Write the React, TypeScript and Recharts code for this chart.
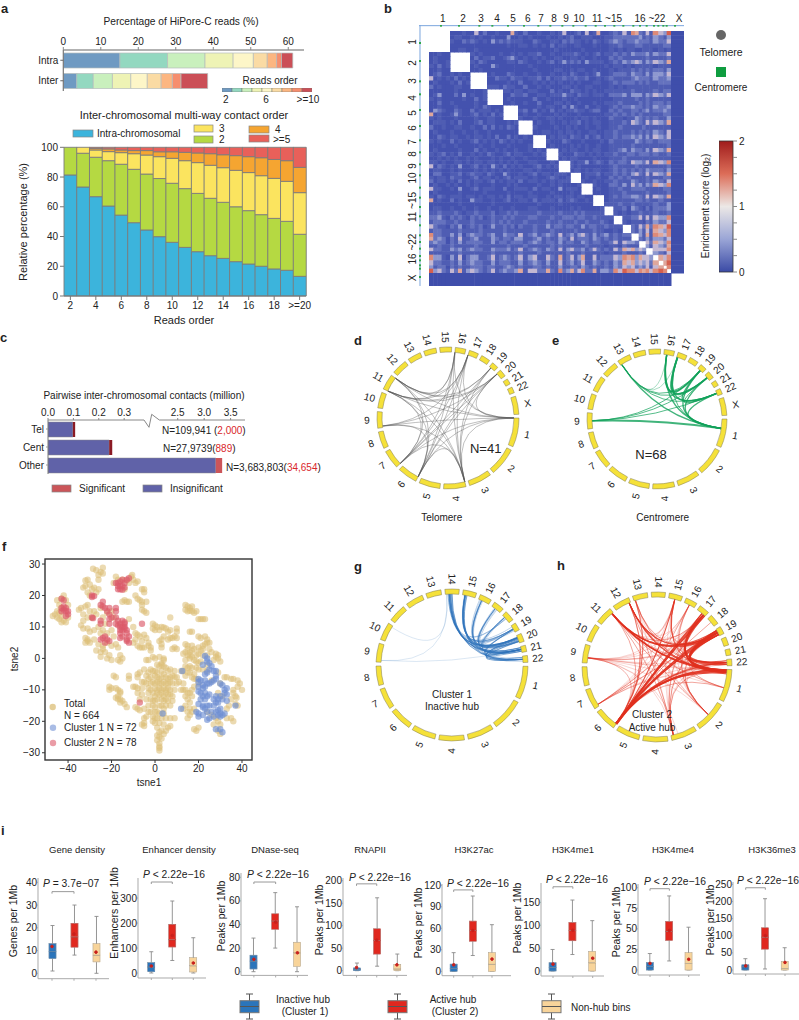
import {
  Bar, BarChart, Cell, ComposedChart, Customized, Line, Pie, PieChart, ReferenceLine,
  Scatter, ScatterChart, XAxis, YAxis,
} from "recharts";

// panel a, top
const readOrderColors = ["#6f9ac2", "#93d8c0", "#c9f0bd", "#eef3b5", "#fdf6c8", "#fadba4", "#fcb681", "#f68e6e", "#cb4f57"];
const intraShares = [15.1, 12.7, 10, 7.5, 5.4, 3.7, 2.5, 1.3, 3.0];
const interShares = [3.6, 4.4, 5.1, 4.9, 4.4, 3.7, 3, 2.3, 7.1];

// panel a, bottom
const orderCats = ["2", "3", "4", "5", "6", "7", "8", "9", "10", "11", "12", "13", "14", "15", "16", "17", "18", "19", ">=20"];
const intraPct = [81.4, 73.3, 66.8, 60.5, 54.4, 49.3, 44.4, 39.9, 36.1, 32.7, 29.8, 27.1, 25.3, 23.1, 21.5, 20, 18.2, 17.3, 13.2];
const twoPct = [18.6, 22.7, 26.5, 30.5, 34.2, 35.9, 37.6, 39.1, 39.7, 39.5, 39.2, 38.6, 37.7, 36.9, 35.9, 34.7, 34, 32.9, 28.3];
const threePct = [0, 4, 4.9, 6.1, 7.8, 10.5, 12.8, 14.7, 16.8, 18.8, 20.7, 22.2, 23.3, 24.5, 25.6, 26.2, 26.9, 26.9, 28];
const fourPct = [0, 0, 1.1, 1.8, 1.8, 2.1, 3, 3.3, 4.4, 5.6, 6.5, 7.8, 8.7, 9.9, 10.7, 12.1, 12.7, 13.9, 17];
const fivePct = [0, 0, 0.7, 1.1, 1.8, 2.2, 2.2, 3, 3, 3.4, 3.8, 4.3, 5, 5.6, 6.3, 7, 8.2, 9, 13.5];

// panel b: widths of chromosomes in the matrix, how many bins each one has, and the lower triangle of the matrix
const matrixSizes = [63, 60, 51, 48, 45, 44, 40, 37, 36, 32, 35, 34, 28, 27, 26, 23, 21, 21, 17, 15, 10, 13, 40];
const matrixBins = [5, 5, 4, 4, 4, 3, 3, 3, 3, 3, 3, 3, 2, 2, 2, 2, 2, 2, 1, 1, 1, 1, 1];
const heatColors = ["#3f4eab", "#4452ae", "#4f5db3", "#6572be", "#8e98cf", "#c3b7d2", "#dfa79c", "#dd8a78", "#d5604f", "#c33a33"];
const centromeres = [36, 90, 151, 190, 237, 285, 328, 364, 400, 433, 470, 500, 528, 556, 583, 613, 633, 653, 675, 688, 703, 713, 738];
const matrixRows = [
  "", "0", "00", "000", "0000",
  "11211", "12111 0", "12112 00", "21312 000", "11211 0000",
  "12311 21211", "51212 13121 0", "12111 21312 00", "31211 12211 000",
  "11111 12111 1112", "12411 13141 2112 0", "21211 11121 1312 00", "11311 21111 1211 000",
  "11211 12111 1213 2111", "14321 13211 3122 2121 0", "61211 24211 2312 1312 00", "21211 12111 1211 2211 000",
  "12221 21311 1231 2211 1212", "31121 12211 2113 1312 1321 0", "12111 21121 1211 2111 1111 00",
  "11321 22112 1221 2131 1312 121", "21211 31211 2312 1213 2121 211 0", "11121 12111 1121 1211 1211 112 00",
  "12111 11211 1312 1121 2112 112 121", "21231 21311 2121 3211 2312 211 212 0", "11212 12112 1211 1212 1121 121 111 00",
  "22121 12212 1221 2212 1212 112 211 121", "51321 21411 2312 1421 3121 211 231 212 0", "12211 21211 1212 1212 1211 122 121 111 00",
  "13311 22312 3221 3211 4211 212 312 212 221", "21221 32211 2312 2121 2312 221 211 232 112 0", "31221 21312 1221 2312 1221 312 212 121 222 00",
  "12112 12112 1211 1211 1212 111 121 121 211 112", "52211 21411 2312 2211 3112 221 312 211 412 221 0", "12111 11211 1112 1111 1211 112 111 121 111 211 00",
  "21321 22212 2121 2212 1312 212 211 212 212 212 211", "61211 31211 4221 1211 2311 221 312 221 312 321 121 0", "11111 11211 1111 1211 1111 111 121 111 211 111 111 00",
  "12211 21121 1211 2112 1121 112 211 121 111 212 111 112", "22322 23212 2322 2312 2323 222 232 222 322 232 322 222 0",
  "33421 32321 3231 2322 3232 223 322 232 233 323 322 322 22", "23332 23222 3222 2323 2322 232 222 322 322 232 232 223 21 0",
  "53221 32412 3231 2422 3231 322 322 423 323 322 423 322 32 22", "23322 22322 2232 2222 3222 222 322 232 222 232 222 322 11 21 0",
  "73322 42413 4332 3422 4332 523 423 432 523 424 532 423 42 32 33", "63431 32522 3422 2432 3324 422 342 322 432 523 332 432 32 32 22 0",
  "34331 32423 3332 2423 3233 323 432 332 423 322 432 332 23 52 54 43", "22322 32222 2322 2222 2322 232 222 232 322 222 232 222 12 21 32 22 0",
  "53322 43423 4332 2433 3423 523 432 432 524 533 423 532 32 53 65 64 54", "22222 22322 2222 2322 2222 322 232 222 223 222 322 222 12 22 32 22 32 0",
  "74421 42513 4422 3523 4323 524 522 532 623 524 622 523 33 54 76 74 65 54",
  "53322 32423 4332 2423 3322 423 432 422 523 423 522 432 32 43 65 64 54 53 6",
  "42331 32322 3332 3322 3432 322 332 322 422 332 432 322 32 43 54 53 43 52 5 6",
  "84532 53624 5432 3523 4334 625 533 632 734 635 733 624 43 75 87 75 76 75 7 8 7",
  "00000 00000 0000 0000 0000 000 000 000 000 000 000 000 00 00 00 00 00 00 0 0 0 0",
];

// panel c
const contactCats = ["Tel", "Cent", "Other"];
const contactTotals = [0.107, 0.253, 3.34];
const contactSignificant = [0.009, 0.012, 0.12];
const contactTicks = [0, 0.1, 0.2, 0.3, 2.5, 3, 3.5];

// panels d, e, g, h: [chrom, position on chrom, chrom, position on chrom, weight]
const chromNames = ["1", "2", "3", "4", "5", "6", "7", "8", "9", "10", "11", "12", "13", "14", "15", "16", "17", "18", "19", "20", "21", "22", "X"];
const chromSizes = [249, 243, 198, 191, 181, 171, 159, 146, 141, 135, 135, 133, 115, 107, 102, 90, 81, 78, 59, 63, 48, 51, 155];
type Link = number[];
const telomereLinks: Link[] = [
  [16, 0, 11, 1, 1], [16, 0, 11, 0, 1], [16, 0, 7, 0, 1], [16, 0, 6, 0, 1], [16, 0, 4, 0, 1], [16, 0, 1, 0, 1],
  [17, 0, 11, 1, 1], [17, 0, 11, 0, 1], [17, 0, 7, 0, 1], [17, 0, 6, 0, 1], [17, 0, 4, 0, 1], [17, 0, 9, 0.1, 1], [17, 0, 1, 0, 1],
  [19, 0.3, 11, 1, 1], [19, 0.3, 11, 0, 1], [19, 0.3, 7, 0, 1], [19, 0.3, 6, 0, 1], [19, 0.3, 4, 0, 1],
  [20, 0.1, 11, 1, 1], [20, 0.1, 11, 0, 1], [20, 0.1, 7, 0, 1], [20, 0.1, 6, 0, 1], [20, 0.1, 4, 0, 1], [20, 0.1, 9, 0.1, 1], [20, 0.1, 1, 0, 1],
  [1, 0, 11, 1, 1], [1, 0, 11, 0, 1], [1, 0, 9, 0.1, 1], [1, 0, 7, 0, 1], [1, 0, 6, 0, 1], [1, 0, 4, 0, 1],
  [11, 1, 4, 0, 1], [11, 1, 6, 0, 1], [11, 1, 7, 0, 1], [11, 0, 4, 0, 1], [11, 0, 6, 0, 1], [11, 0, 7, 0, 1],
  [9, 0.1, 4, 0, 1], [9, 0.1, 6, 0, 1], [7, 0, 4, 0, 1], [6, 0, 4, 0, 1],
];
const centromereLinks: Link[] = [
  [13, 0.1, 19, 0.5, 2], [13, 0.1, 20, 0.5, 2], [13, 0.1, 22, 0.5, 2], [13, 0.1, 1, 0.35, 3], [13, 0.1, 16, 0.3, 1], [13, 0.1, 17, 0.1, 1],
  [16, 0.3, 19, 0.5, 3], [16, 0.3, 20, 0.5, 3], [16, 0.3, 22, 0.5, 3], [16, 0.3, 1, 0.35, 3],
  [17, 0.1, 19, 0.5, 4], [17, 0.1, 20, 0.5, 4], [17, 0.1, 22, 0.5, 3], [17, 0.1, 1, 0.35, 2],
  [19, 0.5, 1, 0.35, 3], [20, 0.5, 1, 0.35, 3], [22, 0.5, 1, 0.35, 3], [19, 0.5, 22, 0.5, 3], [20, 0.5, 22, 0.5, 2],
  [9, 0.5, 19, 0.5, 2], [9, 0.5, 20, 0.5, 2], [9, 0.5, 22, 0.5, 2], [9, 0.5, 1, 0.35, 4],
];
const cluster1Links: Link[] = [
  [14, 0.3, 19, 0.5, 1], [14, 0.3, 20, 0.3, 3], [14, 0.3, 20, 0.8, 2], [14, 0.4, 21, 0.5, 3], [14, 0.5, 22, 0.5, 2], [14, 0.4, 18, 0.5, 1],
  [14, 0.2, 20, 0.5, 2], [14, 0.25, 21, 0.2, 2], [14, 0.35, 21, 0.8, 2], [14, 0.45, 22, 0.2, 1], [14, 0.5, 19, 0.2, 1],
  [15, 0.2, 19, 0.5, 2], [15, 0.2, 20, 0.3, 3], [15, 0.2, 21, 0.5, 3], [15, 0.2, 18, 0.5, 1], [15, 0.2, 22, 0.5, 2],
  [15, 0.3, 20, 0.7, 2], [15, 0.35, 21, 0.2, 2], [15, 0.15, 19, 0.8, 1], [15, 0.25, 22, 0.8, 1],
  [16, 0.3, 19, 0.5, 1], [16, 0.3, 20, 0.3, 2], [16, 0.3, 20, 0.8, 1], [16, 0.3, 21, 0.5, 2], [16, 0.1, 20, 0.5, 1], [16, 0.2, 21, 0.8, 1], [16, 0.4, 22, 0.5, 1],
  [17, 0.4, 19, 0.5, 1], [17, 0.4, 20, 0.3, 2], [17, 0.4, 21, 0.5, 2], [17, 0.6, 22, 0.5, 1], [17, 0.5, 20, 0.7, 1], [17, 0.3, 21, 0.2, 1],
  [18, 0.3, 20, 0.3, 2], [18, 0.3, 20, 0.8, 1], [18, 0.3, 21, 0.5, 2], [18, 0.3, 19, 0.5, 1], [18, 0.4, 22, 0.5, 1],
  [19, 0.6, 21, 0.5, 3], [20, 0.4, 21, 0.5, 3], [20, 0.8, 22, 0.5, 3], [19, 0.6, 22, 0.5, 2], [20, 0.2, 22, 0.2, 2], [20, 0.6, 21, 0.8, 2],
  [10, 0.9, 14, 0.1, 0.3], [9, 0.1, 14, 0.1, 0.3], [9, 0.1, 21, 0.5, 0.3],
];
const cluster2Links: Link[] = [
  [6, 0, 19, 0.5, 4], [6, 0, 17, 0.8, 4], [6, 0, 22, 0.5, 2], [6, 0, 1, 0.05, 4], [6, 0, 15, 0.5, 2], [6, 0, 16, 0.5, 1], [6, 0, 1, 0.1, 2], [6, 0.02, 1, 0.6, 1],
  [6, 0.03, 19, 0.2, 2], [6, 0.03, 19, 0.8, 2], [6, 0.02, 17, 0.6, 2], [6, 0.02, 17, 0.95, 2], [6, 0.04, 1, 0.02, 2], [6, 0.04, 1, 0.14, 2], [6, 0.05, 22, 0.2, 1], [6, 0.05, 22, 0.8, 1], [6, 0.05, 18, 0.5, 1],
  [7, 0.1, 19, 0.5, 1], [7, 0.1, 17, 0.8, 1], [7, 0.1, 1, 0.1, 0.5], [7, 0.1, 22, 0.5, 0.5], [7, 0.1, 15, 0.5, 0.5], [7, 0.1, 19, 0.8, 0.5], [7, 0.1, 17, 0.6, 0.5], [7, 0.1, 1, 0.03, 0.5], [7, 0.1, 16, 0.5, 0.5],
  [9, 0.3, 19, 0.5, 0.5], [9, 0.3, 17, 0.8, 0.5], [9, 0.3, 1, 0.1, 0.5], [9, 0.3, 22, 0.5, 0.5], [9, 0.3, 3, 0.9, 0.3], [9, 0.3, 6, 0, 0.5], [9, 0.3, 2, 0.5, 0.3], [9, 0.3, 16, 0.5, 0.3],
  [9, 0.3, 19, 0.2, 0.5], [9, 0.3, 19, 0.8, 0.5], [9, 0.3, 1, 0.03, 0.5], [9, 0.3, 15, 0.5, 0.3], [9, 0.3, 6, 0.03, 0.3], [9, 0.3, 1, 0.6, 0.3], [9, 0.3, 3, 0.7, 0.3],
  [11, 0.9, 19, 0.5, 3], [11, 0.9, 1, 0.05, 3], [11, 0.9, 22, 0.5, 1], [11, 0.9, 17, 0.8, 1], [11, 0.9, 2, 0.5, 1], [11, 0.9, 3, 0.9, 1], [11, 0.9, 1, 0.6, 1],
  [11, 0.9, 19, 0.2, 2], [11, 0.9, 19, 0.8, 2], [11, 0.9, 1, 0.1, 2], [11, 0.9, 1, 0.02, 2], [11, 0.9, 6, 0, 1], [11, 0.9, 15, 0.5, 0.5],
  [12, 0.9, 19, 0.5, 2], [12, 0.9, 1, 0.1, 2], [12, 0.9, 6, 0, 1], [12, 0.9, 22, 0.5, 1], [12, 0.9, 3, 0.9, 1], [12, 0.9, 2, 0.5, 0.5], [12, 0.9, 17, 0.8, 0.5],
  [12, 0.9, 19, 0.8, 1], [12, 0.9, 1, 0.03, 1], [12, 0.9, 6, 0.03, 1], [12, 0.9, 15, 0.5, 0.5], [12, 0.9, 16, 0.5, 0.5],
  [13, 0.1, 6, 0, 1], [13, 0.1, 1, 0.15, 1], [13, 0.1, 19, 0.5, 1], [13, 0.1, 3, 0.9, 0.5], [13, 0.1, 2, 0.5, 0.5], [13, 0.1, 6, 0.03, 1], [13, 0.1, 22, 0.5, 0.5],
  [3, 0.9, 17, 0.8, 1], [3, 0.9, 19, 0.5, 1], [3, 0.9, 1, 0.1, 1], [3, 0.9, 15, 0.5, 0.5], [3, 0.9, 22, 0.5, 0.5], [3, 0.9, 19, 0.8, 0.5], [3, 0.9, 17, 0.6, 0.5], [3, 0.9, 16, 0.5, 0.5],
  [2, 0.5, 19, 0.5, 1], [2, 0.5, 17, 0.8, 1], [2, 0.5, 15, 0.5, 0.5], [2, 0.5, 16, 0.5, 0.5], [2, 0.5, 19, 0.2, 0.5], [2, 0.5, 17, 0.95, 0.5], [2, 0.5, 1, 0.05, 0.5], [2, 0.5, 22, 0.5, 0.5],
  [15, 0.5, 19, 0.5, 1], [15, 0.5, 1, 0.1, 1], [15, 0.5, 22, 0.5, 1], [16, 0.5, 19, 0.5, 0.5], [16, 0.5, 1, 0.1, 0.5], [15, 0.5, 1, 0.03, 1], [16, 0.5, 22, 0.5, 0.5],
  [17, 0.8, 1, 0.05, 3], [17, 0.8, 22, 0.5, 2], [19, 0.5, 1, 0.05, 3], [19, 0.5, 22, 0.5, 2], [22, 0.5, 1, 0.1, 1], [17, 0.8, 19, 0.5, 1],
  [17, 0.6, 1, 0.1, 2], [17, 0.95, 1, 0.02, 2], [19, 0.2, 1, 0.1, 3], [19, 0.8, 1, 0.02, 3], [19, 0.2, 1, 0.6, 1], [19, 0.8, 22, 0.2, 2], [17, 0.6, 22, 0.8, 1], [19, 0.3, 22, 0.8, 2],
];

// panel f
const tanPoints = [
  [-45, 18.5], [-43, 19], [-42, 20], [-41, 18.5], [-44, 17], [-43, 16], [-45, 15], [-46, 14], [-47, 13.5], [-45, 13], [-44, 12.5], [-43, 13.5], [-42, 12], [-43, 11.5], [-41, 11.5], [-40, 13], [-44, 14.5], [-40, 17],
  [-28.5, 28.5], [-27, 28], [-25, 27.5], [-24, 28.8], [-24, 27], [-26, 26.5], [-26, 25], [-31, 25], [-32, 24.8], [-32, 23], [-33, 22.5], [-30, 23.5], [-29, 22], [-28, 22.5], [-31, 21], [-27, 21], [-26, 22], [-30, 20],
  [-18, 26], [-17, 25], [-15, 25], [-13, 24.8], [-11, 26], [-10, 25], [-9, 24], [-12, 24], [-10.5, 26.5], [-8, 24.5], [-19, 24], [-14, 22], [-6, 22], [-5, 21], [-5, 22], [-9, 20], [-8, 19], [-7, 18.5], [-6, 18], [-6, 17], [-14, 18.5], [-15, 18], [-13, 18], [-12, 18], [-4, 18], [-6, 15.5], [-5, 15], [-4, 14.5],
  [-35, 15.5], [-34, 16], [-33, 14], [-32, 16.5], [-31, 17], [-30, 15], [-31, 13], [-33, 12], [-29, 13], [-28, 15], [-27, 14], [-25, 16], [-24, 13], [-22, 14.5], [-20, 15], [-19, 13], [-34, 10.5], [-33, 9.5], [-31, 9.5], [-30, 8.5], [-28, 9], [-26, 10], [-24, 9], [-25, 8], [-23, 11], [-22, 8], [-20, 9], [-19, 7], [-32, 6.5], [-31, 5.5], [-31, 6], [-30, 5], [-32, 5], [-28, 6], [-26, 4.5], [-24, 4], [-22, 5], [-20, 4], [-18, 4.5], [-17, 3.5], [-24, 3], [-27, 2.5], [-25, 2], [-23, 2], [-21, 1], [-25, 0.5], [-22, 0], [-20, -0.5], [-16, 1], [-15, 0], [-16, -1], [-17, -0.5],
  [-12, 12.5], [-10, 10], [-9, 8], [-8, 7.5], [-7, 7], [-5, 7.5], [-6, 5.5], [-4, 6.5], [-3, 5], [-9, 6], [-10, 5], [-8, 4], [-7, 3.5], [-6, 3.5], [-5, 3.5], [-3, 4], [-2, 2.5], [-2, 3.5],
  [-1, 11], [0, 10.5], [-1, 9.5], [0, 9], [1, 10], [2, 9], [3, 10], [4, 9.8], [5, 9.5], [7, 13], [6, 8.5], [7, 9], [10, 9.5], [10, 8.5], [9, 7], [8, 6.5], [7, 6.5], [6, 6], [4, 7], [3, 6], [2, 5.5], [3, 3.5], [3, 4.5], [9, 3.5], [10, 3], [8, 3], [10, 6.5],
  [-1, 0.5], [0, 0], [2, 0.5], [4, 0], [4, -0.5], [3, -2], [1, -2], [2, -2.5], [4, -2.5], [-3, -0.5], [-4, -0.5], [3, -1.5],
  [-5, -3.5], [-2, -3.5], [-3, -4.5], [-1, -4], [0, -4], [1, -4.5], [3, -4], [4, -5], [6, -4], [7, -3.5], [9, -4], [5, -3], [-7, -4.5], [-8, -5], [-8, -6], [-4, -5.5], [-3, -6.5], [-2, -6], [0, -5.5], [1, -6], [2, -6.5], [3, -6], [5, -6], [6, -6.5], [7, -6], [8, -5.5], [9, -6], [10, -6],
  [-6, -7.5], [-5, -7.5], [-4, -8], [-2, -8], [-1, -7.5], [0, -8], [1, -7.5], [2, -8], [3, -8], [4, -7.5], [5, -8], [6, -8], [7, -7.5], [8, -8], [10, -8], [11, -7.5], [-10, -9], [-9, -9], [-8, -9.5], [-6, -9.5], [-3, -9.5], [-2, -10], [0, -9.5], [1, -10], [2, -9.5], [3, -10], [4, -9.5], [5, -10], [6, -9.5], [7, -10], [9, -10],
  [-8, -11], [-6, -11.5], [-3, -11], [-1, -11], [0, -12], [1, -11], [2, -11.5], [3, -11], [4, -12], [5, -11], [6, -11.5], [7, -11.5], [8, -12], [-7, -13], [-4, -13], [-2, -13], [-1, -13.5], [0, -13.5], [1, -13], [3, -13], [4, -13.5], [5, -13], [6, -13.5], [8, -13.5], [-3, -15], [-1, -15], [0, -15.5], [2, -15], [3, -15], [4, -16], [5, -15], [7, -15],
  [-9, -15.5], [-8, -16], [-7, -16.5], [-5, -16], [-3, -17], [-2, -17], [0, -17], [1, -17], [2, -17.5], [4, -17.5], [-4, -18.5], [-5, -19], [-1, -18.5], [0, -19], [1, -19], [3, -19], [5, -19], [7, -19], [9, -19], [-5, -20.5], [-6, -21], [-5, -21.5], [-1, -20], [0, -20.5], [2, -20.5], [4, -21], [6, -22], [7, -21.5], [5, -23], [1, -22], [2, -23.5], [3, -23], [4, -24], [1, -24.5], [2, -25], [3, -25.5], [1, -26], [2, -27], [2, -28], [2, -28.5], [2, -29.3],
  [-19, -5.5], [-18, -6], [-12, -5.5], [-12, -6.5], [-21, -9], [-21, -10], [-20, -9.5], [-18, -9.5], [-17, -10], [-16, -11], [-16, -10.5], [-17, -12], [-17, -13], [-16, -13], [-15, -13.5], [-16, -14], [-14, -14.5], [-13, -15.5], [-18, -12.5],
  [14, 17], [15, 16.5], [16, 16], [17, 16.5], [14, 15.5], [15, 15], [16, 15.2], [17, 15], [19, 15], [18, 14.5], [20, 12.5], [21, 12.5], [22, 12.5], [23, 12.5], [16, 8.5], [17, 8.5], [20, 7], [21, 6.5], [23, 7], [24, 6], [23, 4.5], [24, 5], [22, 4], [25, 5], [25, 3], [14, 4.5], [15, 4], [17, 4], [15, 3], [14, 2], [16, 2], [17, 2.5], [18, 3], [20, 3.5], [21, 2.5], [22, 3], [13, 1.5], [15, 1], [16, 1], [17, 0.5], [19, 1], [20, 1.5], [22, 1], [24, 1], [26, 2], [28, 1.5], [29, 1], [28, 0.5], [14, -0.5], [16, 0], [18, -0.5], [19, -1], [20, -1.5], [21, -1], [24, -2], [27, -0.5], [29, 0], [14, -2.5], [15, -3], [16, -2.5], [17, -3], [19, -3], [20, -3.5], [22, -3.5], [24, -4], [13, -4], [15, -4.5], [16, -4.5], [18, -5], [17, -6], [18, -6.5], [19, -6.5], [14, -5.5], [12, -4], [30, -1],
  [29, -4.5], [32, -6], [33, -6], [35, -6.5], [36, -6.5], [38, -7], [39, -8], [38, -9], [40, -10], [36, -10], [36, -11], [37, -12], [37.5, -12.5], [38, -15], [37, -14.5], [35, -13], [34, -15], [33, -16], [26, -7], [30, -8], [29, -11], [31, -12], [24, -17], [26, -18], [28, -19], [29, -20], [30, -21], [33, -19], [35, -19], [36, -20], [27, -21], [29, -23], [30, -24], [18, -22.5], [19, -23], [20, -22], [15, -19], [16, -18], [17, -17], [18, -16], [16, -16], [15, -17], [14, -15], [13, -16], [16, -14], [17, -12], [16, -11], [15, -11], [14, -12], [13, -10], [14, -10], [15, -13], [12, -10], [13, -8], [17, -10], [18, -9], [20, -8],
];
const redPoints = [
  [-42, 18.5], [-43, 19], [-42, 15.5], [-43, 16], [-41, 16], [-42, 16.5], [-41, 15], [-43, 15], [-40, 14], [-40, 15], [-41, 13.5],
  [-29, 20], [-29, 19.5], [-28, 19.8], [-29, 13], [-28.5, 12.8],
  [-18, 24], [-17, 24], [-16, 24.5], [-15, 25], [-14, 24], [-17, 23], [-16, 23], [-15, 23], [-14, 22.5], [-17, 22], [-16, 22], [-15, 21.8], [-13, 25], [-12, 25.5],
  [-25, 17], [-24, 18], [-23, 16], [-24, 16.5], [-22, 15], [-21, 14], [-21, 16], [-21, 11], [-21, 12.5], [-18, 16], [-20, 13], [-25, 12], [-25, 11], [-18, 13], [-18, 11], [-17, 10.5], [-16, 10], [-15, 12], [-14, 11], [-16, 9], [-15, 9], [-14, 10], [-13, 9], [-16, 8], [-15, 7], [-13, 8], [-12, 7], [-16, 11], [-15, 10], [-17, 12], [-14, 9.5], [-13, 6], [-16, 6.5], [-13, 5.5], [-12, 5],
  [-25, 6], [-24, 6.5], [-23, 7], [-22, 6], [-21, 5.5], [-23, 5], [-6, 11], [-7, -14], [-14, 11.5], [-18, 15],
];
const bluePoints = [
  [23, 0.8], [24, 0], [24, -1], [25, -1.5], [22, -2], [26, -2.5], [25, -3.5], [24, -4.5], [27, -4], [28, -4], [23, -5], [28, -5.5], [28, -6.5], [27, -7], [20, -6.5], [21, -7], [20, -7.5], [23, -7], [24, -8], [22, -8.5], [23, -9], [25, -8], [26, -7.5], [30, -8], [31, -8.5], [20, -9], [22, -9.5], [33, -9.5], [32, -10], [20, -10.5], [21, -11], [23, -11], [22, -12], [24, -12], [25, -11.5], [28, -12], [30, -12], [32, -11], [33, -11.5], [21, -13], [23, -13], [27, -13], [29, -13], [31, -13], [28, -14], [29, -14], [33, -13.5], [20, -14.5], [22, -15], [24, -15], [25, -15], [27, -15], [22, -15.5], [30, -16], [29, -16.5], [23, -16], [19, -17], [20, -17.5], [22, -18], [24, -17], [26, -17], [28, -17], [30, -17.5], [32, -17.5], [31, -18], [25, -19], [27, -18.5], [30, -18.5], [24, -19.5], [29, -18], [37, -15], [12, -16], [12.5, -4], [3.5, -17.5], [28, -22.5], [30, -22.5], [31, -23.5], [20, -18.5],
];

// panel i: min, q1, median, q3, max, mean for inactive, active, non-hub
const boxCats = ["Inactive", "Active", "Non-hub"];
const boxColors = ["#2b75bb", "#e0281f", "#f8d49a"];
const geneDensity = [[1, 6.5, 9.5, 13, 21, 11.8], [8, 11.5, 16, 22, 30, 17.3], [0, 5, 8, 13, 25, 9.3]];
const enhancerDensity = [[0, 5, 24, 41, 85, 28], [50, 104, 133, 195, 288, 150], [0, 4, 29, 61, 141, 40]];
const dnaseSeq = [[0, 2.3, 9, 14, 28.5, 10.5], [20, 36, 43, 49, 67, 42], [0, 4.5, 16, 25, 55, 16]];
const rnapii = [[0, 0, 3, 6, 17, 7], [10, 37, 67, 93, 162, 68], [0, 0, 4, 14, 37, 13]];
const h3k27ac = [[0, 0, 4, 10, 26, 9], [22, 42, 57, 70, 105, 57], [0, 0, 10, 26, 65, 17]];
const h3k4me1 = [[0, 0, 8, 18, 47, 15], [36, 66, 89, 106, 155, 89], [0, 0, 18, 43, 110, 28]];
const h3k4me4 = [[0, 0, 4, 9, 20, 8], [11, 36, 47, 59, 90, 48], [0, 0, 8, 21, 52, 13]];
const h3k36me3 = [[0, 0, 9, 15, 33, 12], [3, 61, 96, 123, 208, 100], [0, 0, 5, 25, 65, 22]];
const boxPanels = [
  { title: "Gene density", tx: 77, yl: "Genes per 1Mb", lx: 13, ly: 921, p: "= 3.7e\u221207", px: 43, py: 883, values: geneDensity, ticks: [0, 10, 20, 30, 40], bracket: 35.9, L: 38, R: 109, top: 878, bottom: 978.7, zero: 973.3, scale: 2.275, c1: 52, c3: 96 },
  { title: "Enhancer density", tx: 179, yl: "Enhancers per 1Mb", lx: 114, ly: 913, p: "< 2.22e\u221216", px: 143, py: 874, values: enhancerDensity, ticks: [0, 100, 200, 300], bracket: 364, L: 137.7, R: 206, top: 877.7, bottom: 977.7, zero: 972.7, scale: 0.25, c1: 151, c3: 193 },
  { title: "DNase-seq", tx: 275, yl: "Peaks per 1Mb", lx: 220.7, ly: 916, p: "< 2.22e\u221216", px: 247, py: 874, values: dnaseSeq, ticks: [0, 20, 40, 60, 80], bracket: 76, L: 240.7, R: 308, top: 873.3, bottom: 975.7, zero: 972, scale: 1.18, c1: 253.7, c3: 297.7 },
  { title: "RNAPII", tx: 370, yl: "Peaks per 1Mb", lx: 319, ly: 920, p: "< 2.22e\u221216", px: 349, py: 877, values: rnapii, ticks: [0, 50, 100, 150, 200], bracket: 193, L: 343, R: 407, top: 878.3, bottom: 975.7, zero: 971, scale: 0.45, c1: 356.7, c3: 397.7 },
  { title: "H3K27ac", tx: 474, yl: "Peaks per 1Mb", lx: 418, ly: 923, p: "< 2.22e\u221216", px: 447, py: 883, values: h3k27ac, ticks: [0, 30, 60, 90, 120], bracket: 113.5, L: 442, R: 511, top: 884, bottom: 975.7, zero: 971.3, scale: 0.717, c1: 453.7, c3: 492 },
  { title: "H3K4me1", tx: 573, yl: "Peaks per 1Mb", lx: 517, ly: 918, p: "< 2.22e\u221216", px: 546, py: 879, values: h3k4me1, ticks: [0, 50, 100, 150], bracket: 184, L: 541, R: 604, top: 882.7, bottom: 975.7, zero: 970.7, scale: 0.4578, c1: 553, c3: 592.7 },
  { title: "H3K4me4", tx: 673, yl: "Peaks per 1Mb", lx: 616, ly: 922, p: "< 2.22e\u221216", px: 644, py: 881, values: h3k4me4, ticks: [0, 25, 50, 75, 100], bracket: 98.8, L: 638, R: 700, top: 884, bottom: 975, zero: 970, scale: 0.823, c1: 650, c3: 688.7 },
  { title: "H3K36me3", tx: 772, yl: "Peaks per 1Mb", lx: 710, ly: 920, p: "< 2.22e\u221216", px: 737, py: 880, values: h3k36me3, ticks: [0, 50, 100, 150, 200, 250], bracket: 240, L: 733, R: 799, top: 881.7, bottom: 973.7, zero: 969.7, scale: 0.3427, c1: 745.7, c3: 785 },
];

const Pos = ({ x, y, children }: any) => <div style={{ position: "absolute", left: x, top: y }}>{children}</div>;

const T = ({ x, y, s = 10, a = "middle", r = 0, c = "#222", b = false, i = false, children }: any) => (
  <text
    x={x} y={y} fontSize={s} textAnchor={a} dominantBaseline="central" fill={c}
    fontWeight={b ? 700 : 400} fontStyle={i ? "italic" : "normal"}
    transform={r ? `rotate(${r} ${x} ${y})` : undefined}
  >
    {children}
  </text>
);

const tickStyle = { fontSize: 10, fill: "#222" };

function ReadsShare() {
  const row = (cat: string, vals: number[]) => {
    const out: any = { cat };
    vals.forEach((v, i) => (out[`s${i}`] = v));
    return out;
  };
  const data = [row("Intra", intraShares), row("Inter", interShares)];
  return (
    <BarChart width={306} height={41 + 20} data={data} layout="vertical" margin={{ top: 0, right: 2, bottom: 0, left: 0 }}>
      <XAxis type="number" orientation="top" height={20} domain={[0, 64.2]} ticks={[0, 10, 20, 30, 40, 50, 60]} allowDataOverflow tick={tickStyle} axisLine={{ stroke: "#999", strokeWidth: 1.5 }} tickLine={{ stroke: "#888" }} tickSize={3} />
      <YAxis type="category" dataKey="cat" width={63.3} tick={tickStyle} axisLine={{ stroke: "#777", strokeWidth: 1.2 }} tickLine={{ stroke: "#666" }} tickSize={3} />
      {readOrderColors.map((color, i) => (
        <Bar key={i} dataKey={`s${i}`} stackId="a" fill={color} stroke="#b5bcbc" strokeWidth={0.7} barSize={15} isAnimationActive={false} />
      ))}
    </BarChart>
  );
}

function OrderKey() {
  const row: any = { k: "k" };
  readOrderColors.forEach((_, i) => (row[`s${i}`] = 1));
  return (
    <BarChart width={90} height={4} data={[row]} layout="vertical" margin={{ top: 0, right: 0, bottom: 0, left: 0 }} barCategoryGap={0}>
      <XAxis type="number" hide domain={[0, 9]} />
      <YAxis type="category" hide dataKey="k" />
      {readOrderColors.map((color, i) => (
        <Bar key={i} dataKey={`s${i}`} stackId="a" fill={color} stroke="#777" strokeWidth={0.5} isAnimationActive={false} />
      ))}
    </BarChart>
  );
}

function OrderStack() {
  const data = orderCats.map((cat, i) => ({ cat, intra: intraPct[i], two: twoPct[i], three: threePct[i], four: fourPct[i], five: fivePct[i] }));
  const series = [["intra", "#3cb4dc"], ["two", "#b5d942"], ["three", "#fbe45f"], ["four", "#f5a531"], ["five", "#e8605a"]];
  return (
    <BarChart width={324} height={182} data={data} margin={{ top: 7.3, right: 18, bottom: 0, left: 0 }} barCategoryGap={0}>
      <XAxis dataKey="cat" interval={1} height={26} tick={tickStyle} tickSize={4} axisLine={{ stroke: "#777" }} tickLine={{ stroke: "#777" }} />
      <YAxis width={64} domain={[0, 100]} ticks={[0, 20, 40, 60, 80, 100]} tick={tickStyle} axisLine={false} tickLine={{ stroke: "#777" }} tickSize={4} />
      {series.map(([key, color]) => (
        <Bar key={key} dataKey={key} stackId="a" fill={color} stroke="#7c7c7c" strokeWidth={0.9} isAnimationActive={false} />
      ))}
    </BarChart>
  );
}

function Heatmap() {
  // bins in matrix units
  const bins: { chrom: number; start: number; size: number }[] = [];
  let pos = 0;
  matrixSizes.forEach((size, chrom) => {
    for (let b = 0; b < matrixBins[chrom]; b++) bins.push({ chrom, start: pos + (b * size) / matrixBins[chrom], size: size / matrixBins[chrom] });
    pos += size;
  });
  const cells: any[] = [];
  matrixRows.forEach((text, i) => {
    const row = text.replace(/ /g, "");
    for (let j = 0; j < i; j++) {
      if (bins[i].chrom === bins[j].chrom) continue;
      const d = Number(row[j] ?? 1);
      cells.push({ x: bins[j].start + bins[j].size / 2, y: bins[i].start + bins[i].size / 2, w: bins[j].size, h: bins[i].size, d });
      cells.push({ x: bins[i].start + bins[i].size / 2, y: bins[j].start + bins[j].size / 2, w: bins[i].size, h: bins[j].size, d });
    }
  });
  const k = 1 / 3;
  const Cellish = (p: any) => (
    <rect x={p.cx - (p.payload.w * k) / 2} y={p.cy - (p.payload.h * k) / 2} width={p.payload.w * k + 0.5} height={p.payload.h * k + 0.5} fill={heatColors[p.payload.d]} />
  );
  const Mark = (p: any) => <rect x={p.cx - 1} y={p.cy - 1} width={2} height={2} fill="#2fa84a" />;
  const top = centromeres.map((c) => ({ x: c, y: -16 }));
  const left = centromeres.map((c) => ({ x: -27, y: c }));
  return (
    <ScatterChart width={796 / 3} height={783 / 3} margin={{ top: 0, right: 0, bottom: 0, left: 0 }}>
      <XAxis type="number" dataKey="x" hide domain={[-30, 766]} allowDataOverflow />
      <YAxis type="number" dataKey="y" hide domain={[-18, 765]} reversed allowDataOverflow />
      <ReferenceLine x={-27} stroke="#7aa5dd" ifOverflow="extendDomain" />
      <ReferenceLine y={-16} stroke="#7aa5dd" ifOverflow="extendDomain" />
      <Scatter data={cells} shape={Cellish} isAnimationActive={false} />
      <Scatter data={top} shape={Mark} isAnimationActive={false} />
      <Scatter data={left} shape={Mark} isAnimationActive={false} />
    </ScatterChart>
  );
}

function ScoreKey() {
  return (
    <BarChart width={40} height={143} data={[{ k: "k", v: 2 }]} margin={{ top: 6, right: 0, bottom: 6, left: 0 }} barCategoryGap={0}>
      <defs>
        <linearGradient id="score" x1="0" y1="0" x2="0" y2="1">
          <stop offset="0" stopColor="#a01c1c" />
          <stop offset="0.25" stopColor="#dc6d58" />
          <stop offset="0.5" stopColor="#ece8e6" />
          <stop offset="0.75" stopColor="#9aa5d6" />
          <stop offset="1" stopColor="#3a4aa5" />
        </linearGradient>
      </defs>
      <XAxis dataKey="k" hide />
      <YAxis orientation="right" width={26} domain={[0, 2]} ticks={[0, 0.25, 0.5, 0.75, 1, 1.25, 1.5, 1.75, 2]} interval={0} tickFormatter={(v: number) => (Number.isInteger(v) ? String(v) : "")} tick={tickStyle} axisLine={false} tickLine={{ stroke: "#888" }} tickSize={4} />
      <Bar dataKey="v" fill="url(#score)" stroke="#333" strokeWidth={0.8} isAnimationActive={false} />
    </BarChart>
  );
}

// the axis of panel c is broken between 0.35 and 2
const toAxis = (v: number) => (v <= 0.35 ? v : 0.511 + (v - 2.5) * 0.2083);

function PairwiseContacts() {
  const data = contactCats.map((cat, i) => ({
    cat,
    insignificant: toAxis(contactTotals[i] - contactSignificant[i]),
    significant: toAxis(contactTotals[i]) - toAxis(contactTotals[i] - contactSignificant[i]),
  }));
  const ticks = contactTicks.map(toAxis);
  return (
    <BarChart width={247} height={74} data={data} layout="vertical" margin={{ top: 0, right: 2, bottom: 0, left: 0 }}>
      <XAxis
        type="number" orientation="top" height={20} domain={[0, 0.776]} ticks={ticks} interval={0} allowDataOverflow
        tickFormatter={(v: number) => contactTicks[ticks.indexOf(v)].toFixed(1)} tick={tickStyle} axisLine={false} tickLine={{ stroke: "#888" }} tickSize={2}
      />
      <YAxis type="category" dataKey="cat" width={48} tick={tickStyle} axisLine={{ stroke: "#777" }} tickLine={{ stroke: "#999" }} tickSize={2} />
      <Bar dataKey="insignificant" stackId="a" fill="#6062a8" stroke="#888" strokeWidth={0.5} barSize={15} isAnimationActive={false} />
      <Bar dataKey="significant" stackId="a" barSize={15} isAnimationActive={false}>
        {contactCats.map((cat) => (
          <Cell key={cat} fill={cat === "Other" ? "#cb5559" : "#8b1a24"} />
        ))}
      </Bar>
    </BarChart>
  );
}

function Chord({ cx, cy, r, chroms, start, pad, links, color, opacity, widthScale }: any) {
  const size = 220;
  const c = size / 2;
  const data = chromSizes.slice(0, chroms).map((value, i) => ({ name: chromNames[i], value }));
  const sum = data.reduce((s, d) => s + d.value, 0);
  const room = 360 - chroms * pad;
  const arcs: number[][] = [];
  let a = start;
  data.forEach((d) => {
    const span = (room * d.value) / sum;
    arcs.push([a, span]);
    a += span + pad;
  });
  const inner = r - 5;
  const at = (chrom: number, f: number) => {
    const ang = ((arcs[chrom - 1][0] + arcs[chrom - 1][1] * f) * Math.PI) / 180;
    return `${c + inner * Math.cos(ang)} ${c + inner * Math.sin(ang)}`;
  };
  const Links = () => (
    <g>
      {links.map((l: Link, i: number) => (
        <path
          key={i} d={`M${at(l[0], l[1])}Q${c} ${c} ${at(l[2], l[3])}`} fill="none" stroke={color}
          strokeWidth={Math.max(0.45, l[4] * widthScale)} strokeOpacity={l[4] < 1 ? opacity * 0.55 : opacity}
        />
      ))}
    </g>
  );
  const label = (p: any) => {
    const mid = p.midAngle as number;
    const rad = (-mid * Math.PI) / 180;
    const x = p.cx + (p.outerRadius + 10) * Math.cos(rad);
    const y = p.cy + (p.outerRadius + 10) * Math.sin(rad);
    const rot = Math.cos(rad) >= 0.2 ? -mid : 180 - mid;
    return (
      <text x={x} y={y} fontSize={10} fill="#222" textAnchor="middle" dominantBaseline="central" transform={`rotate(${((rot + 540) % 360) - 180} ${x} ${y})`}>
        {data[p.index].name}
      </text>
    );
  };
  return (
    <Pos x={cx - c} y={cy - c}>
      <PieChart width={size} height={size} margin={{ top: 0, right: 0, bottom: 0, left: 0 }}>
        <Pie
          data={data} dataKey="value" cx={c} cy={c} innerRadius={inner} outerRadius={r}
          startAngle={-start} endAngle={-start - 360} paddingAngle={pad} fill="#f5e139" stroke="#807a50" strokeWidth={0.5}
          label={label} labelLine={false} isAnimationActive={false}
        />
        <Customized component={Links} />
      </PieChart>
    </Pos>
  );
}

function Cloud() {
  const dot = (fill: string, op: number) => (p: any) => <circle cx={p.cx} cy={p.cy} r={3.2} fill={fill} fillOpacity={op} />;
  const pts = (list: number[][]) => list.map(([x, y]) => ({ x, y }));
  const fmt = (v: number) => String(v).replace("-", "\u2212");
  return (
    <ScatterChart width={256} height={232} margin={{ top: 9, right: 4, bottom: 0, left: 0 }}>
      <XAxis type="number" dataKey="x" height={22} domain={[-50.6, 44.6]} ticks={[-40, -20, 0, 20, 40]} allowDataOverflow tickFormatter={fmt} tick={tickStyle} tickLine={{ stroke: "#333" }} tickSize={3} axisLine={false} />
      <YAxis type="number" dataKey="y" width={45} domain={[-32.3, 31.6]} ticks={[-30, -20, -10, 0, 10, 20, 30]} allowDataOverflow tickFormatter={fmt} tick={tickStyle} tickLine={{ stroke: "#333" }} tickSize={3} axisLine={false} />
      <Scatter data={pts(tanPoints)} shape={dot("#dcbf78", 0.58)} isAnimationActive={false} />
      <Scatter data={pts(bluePoints)} shape={dot("#6f8fd3", 0.65)} isAnimationActive={false} />
      <Scatter data={pts(redPoints)} shape={dot("#dc5a6a", 0.65)} isAnimationActive={false} />
    </ScatterChart>
  );
}

function BoxChart({ panel }: any) {
  const { values, ticks, bracket, L, R, top, bottom, zero, scale, c1, c3 } = panel;
  const data = values.map((v: number[], i: number) => ({
    cat: boxCats[i], color: boxColors[i], base: v[0], w1: v[1] - v[0], b1: v[2] - v[1], b2: v[3] - v[2], w2: v[4] - v[3], mean: v[5],
  }));
  const step = (c3 - c1) / 2;
  const padL = Math.max(0, c1 - step / 2 - L);
  const padR = Math.max(0, R - (c3 + step / 2));
  const yMin = -(bottom - zero) / scale;
  const yMax = (zero - top) / scale;
  const Whisker = (dir: string) => (p: any) => {
    const mx = p.x + p.width / 2;
    const end = dir === "low" ? p.y + p.height : p.y;
    return (
      <g stroke="#8a8a8a" strokeWidth={0.9}>
        <line x1={mx} x2={mx} y1={p.y} y2={p.y + p.height} />
        <line x1={mx - 2} x2={mx + 2} y1={end} y2={end} />
      </g>
    );
  };
  const Box = (median: boolean) => (p: any) => (
    <g>
      <rect x={p.x} y={p.y} width={p.width} height={p.height} fill={p.payload.color} stroke={p.payload.color} strokeWidth={0.5} />
      {median && <line x1={p.x} x2={p.x + p.width} y1={p.y} y2={p.y} stroke="#555" strokeWidth={0.6} />}
      <rect x={p.x} y={p.y} width={p.width} height={p.height} fill="none" stroke="#9a9a9a" strokeWidth={0.4} />
    </g>
  );
  const drop = 2 / scale;
  return (
    <Pos x={L - 32} y={top - 6}>
      <ComposedChart width={R - L + 32} height={bottom - top + 12} data={data} margin={{ top: 6, right: 0, bottom: 0, left: 0 }} barSize={7}>
        <XAxis dataKey="cat" height={6} padding={{ left: padL, right: padR }} tickFormatter={() => ""} tickSize={2} tickLine={{ stroke: "#aaa" }} axisLine={{ stroke: "#aaa" }} />
        <YAxis width={32} domain={[yMin, yMax]} ticks={ticks} interval={0} allowDataOverflow tick={{ fontSize: 10, fill: "#222" }} tickSize={1} tickMargin={0} tickLine={{ stroke: "#aaa" }} axisLine={{ stroke: "#aaa" }} />
        <ReferenceLine segment={[{ x: boxCats[0], y: bracket }, { x: boxCats[1], y: bracket }]} stroke="#999" />
        <ReferenceLine segment={[{ x: boxCats[0], y: bracket }, { x: boxCats[0], y: bracket - drop }]} stroke="#999" />
        <ReferenceLine segment={[{ x: boxCats[1], y: bracket }, { x: boxCats[1], y: bracket - drop }]} stroke="#999" />
        <Bar dataKey="base" stackId="b" fill="none" isAnimationActive={false} />
        <Bar dataKey="w1" stackId="b" shape={Whisker("low")} isAnimationActive={false} />
        <Bar dataKey="b1" stackId="b" shape={Box(true)} isAnimationActive={false} />
        <Bar dataKey="b2" stackId="b" shape={Box(false)} isAnimationActive={false} />
        <Bar dataKey="w2" stackId="b" shape={Whisker("high")} isAnimationActive={false} />
        <Line dataKey="mean" stroke="none" dot={{ r: 1.3, fill: "#c8201c", stroke: "#c8201c" }} isAnimationActive={false} />
      </ComposedChart>
    </Pos>
  );
}

const BoxIcon = ({ x, fill }: any) => (
  <g stroke="#555" strokeWidth={1}>
    <line x1={x + 9.5} x2={x + 9.5} y1={994} y2={1019} />
    <line x1={x + 6} x2={x + 13} y1={994} y2={994} />
    <line x1={x + 6} x2={x + 13} y1={1019} y2={1019} />
    <rect x={x} y={1000.7} width={19} height={12} fill={fill} stroke="#777" />
    <line x1={x} x2={x + 19} y1={1006.5} y2={1006.5} />
  </g>
);

const LegendBox = ({ x, y, fill, w = 19 }: any) => <rect x={x} y={y} width={w} height={7} fill={fill} stroke="#888" strokeWidth={0.7} />;

export default function App() {
  return (
    <div style={{ position: "absolute", left: 0, top: 0, width: 799, height: 1020, background: "#fff", overflow: "hidden", fontFamily: "'Liberation Sans', Arial, sans-serif" }}>
      <Pos x={0} y={30}><ReadsShare /></Pos>
      <Pos x={222} y={88}><OrderKey /></Pos>
      <Pos x={0} y={140}><OrderStack /></Pos>
      <Pos x={419} y={25}><Heatmap /></Pos>
      <Pos x={719} y={135}><ScoreKey /></Pos>
      <Pos x={0} y={400}><PairwiseContacts /></Pos>
      <Chord cx={448} cy={418} r={71} chroms={23} start={0} pad={3} links={telomereLinks} color="#555" opacity={0.75} widthScale={0.5} />
      <Chord cx={657} cy={419} r={70} chroms={23} start={0} pad={3} links={centromereLinks} color="#12a15a" opacity={0.8} widthScale={0.45} />
      <Chord cx={452} cy={665} r={76} chroms={22} start={1} pad={3} links={cluster1Links} color="#2f73bb" opacity={0.7} widthScale={0.4} />
      <Chord cx={657} cy={667} r={75} chroms={22} start={2} pad={3} links={cluster2Links} color="#e0301e" opacity={0.8} widthScale={0.55} />
      <Pos x={0} y={550}><Cloud /></Pos>
      {boxPanels.map((panel) => <BoxChart key={panel.title} panel={panel} />)}

      <svg width={799} height={1020} style={{ position: "absolute", left: 0, top: 0, pointerEvents: "none" }}>
        <T x={1} y={8} s={13} a="start" b>a</T>
        <T x={384} y={8} s={13} a="start" b>b</T>
        <T x={0} y={337} s={13} a="start" b>c</T>
        <T x={354} y={340} s={13} a="start" b>d</T>
        <T x={552} y={340} s={13} a="start" b>e</T>
        <T x={2} y={546} s={13} a="start" b>f</T>
        <T x={354} y={566} s={13} a="start" b>g</T>
        <T x={557} y={565} s={13} a="start" b>h</T>
        <T x={1} y={830} s={13} a="start" b>i</T>

        <T x={181} y={21} s={10.2}>Percentage of HiPore-C reads (%)</T>
        <T x={270} y={80}>Reads order</T>
        <T x={225.7} y={99}>2</T>
        <T x={266} y={99}>6</T>
        <T x={308} y={99}>{">=10"}</T>
        <T x={184} y={115} s={11}>Inter-chromosomal multi-way contact order</T>
        <LegendBox x={73} y={130} fill="#3cb4dc" w={20} />
        <T x={97} y={133} a="start">Intra-chromosomal</T>
        <LegendBox x={194} y={125} fill="#fbe45f" />
        <T x={219} y={128} a="start">3</T>
        <LegendBox x={194} y={136} fill="#b5d942" />
        <T x={219} y={139} a="start">2</T>
        <LegendBox x={249} y={126} fill="#f5a531" w={20} />
        <T x={275} y={129} a="start">4</T>
        <LegendBox x={249} y={135} fill="#e8605a" w={20} />
        <T x={273} y={139} a="start">{">=5"}</T>
        <T x={184} y={320} s={11}>Reads order</T>
        <T x={23} y={222} s={11} r={-90}>Relative percentage  (%)</T>

        {/* panel b labels */}
        {[["1", 442.7], ["2", 463], ["3", 481], ["4", 497], ["5", 513], ["6", 527.7], ["7", 541], ["8", 554], ["9", 566], ["10", 579], ["11 ~15", 607], ["16 ~22", 650], ["X", 679]].map(([t, x]) => (
          <T key={`t${t}`} x={x} y={18}>{t}</T>
        ))}
        {[["1", 42], ["2", 63], ["3", 81], ["4", 98], ["5", 113], ["6", 128], ["7", 142], ["8", 154], ["9", 166], ["10", 178], ["11 ~15", 207], ["16 ~22", 249], ["X", 278]].map(([t, y]) => (
          <T key={`l${t}`} x={412} y={y} r={-90}>{t}</T>
        ))}
        <circle cx={721} cy={35} r={5} fill="#666" />
        <T x={721} y={52} s={10.5}>Telomere</T>
        <rect x={716} y={67} width={10} height={10} fill="#0f9d40" />
        <T x={721} y={87}>Centromere</T>
        <text x={705} y={206} fontSize={10} fill="#222" textAnchor="middle" dominantBaseline="central" transform="rotate(-90 705 206)">
          Enrichment score (log<tspan fontSize={7} dy={2}>2</tspan><tspan dy={-2}>)</tspan>
        </text>

        {/* panel c labels */}
        <T x={144} y={395}>Pairwise inter-chromosomal contacts (million)</T>
        <path d="M48 420H144L149 427.3L151.7 414.3L159.3 420H245" fill="none" stroke="#888" />
        <T x={162} y={430} a="start">N=109,941 (<tspan fill="#d9262a">2,000</tspan>)</T>
        <T x={163} y={448} a="start">N=27,9739(<tspan fill="#d9262a">889</tspan>)</T>
        <T x={226} y={467} a="start">N=3,683,803(<tspan fill="#d9262a">34,654</tspan>)</T>
        <LegendBox x={52} y={485} fill="#cb5559" />
        <T x={79} y={488} a="start">Significant</T>
        <LegendBox x={143} y={485} fill="#6062a8" />
        <T x={170} y={488} a="start">Insignificant</T>

        {/* chord labels */}
        <T x={485.7} y={448} s={13}>N=41</T>
        <T x={441.7} y={517}>Telomere</T>
        <T x={651} y={454} s={13}>N=68</T>
        <T x={662.7} y={517}>Centromere</T>
        <T x={452} y={694}>Cluster 1</T>
        <T x={452} y={706}>Inactive hub</T>
        <T x={652} y={714}>Cluster 2</T>
        <T x={652} y={727}>Active hub</T>

        {/* panel f labels and frame */}
        <rect x={45} y={559} width={207} height={201} fill="none" stroke="#333" strokeWidth={1.4} />
        <T x={149} y={782}>tsne1</T>
        <T x={14} y={659} r={-90}>tsne2</T>
        <circle cx={52.7} cy={707} r={3.2} fill="#d9b96c" fillOpacity={0.7} />
        <T x={64} y={703} a="start">Total</T>
        <T x={64} y={715} a="start">N = 664</T>
        <circle cx={53} cy={727.7} r={3.2} fill="#6f8fd3" fillOpacity={0.6} />
        <T x={64} y={727} a="start">Cluster 1 N = 72</T>
        <circle cx={53} cy={743} r={3.2} fill="#dc5a6a" fillOpacity={0.6} />
        <T x={64} y={742} a="start">Cluster 2  N = 78</T>

        {/* panel i labels */}
        {boxPanels.map((panel) => (
          <g key={panel.title}>
            <T x={panel.tx} y={849} s={9.5}>{panel.title}</T>
            <T x={panel.lx} y={panel.ly} s={10.5} r={-90}>{panel.yl}</T>
            <T x={panel.px} y={panel.py} s={10.3} a="start"><tspan fontStyle="italic">P</tspan> {panel.p}</T>
          </g>
        ))}
        <BoxIcon x={240} fill="#2b75bb" />
        <T x={303} y={999}>Inactive hub</T>
        <T x={305} y={1011}>(Cluster 1)</T>
        <BoxIcon x={388} fill="#e0281f" />
        <T x={453} y={999}>Active hub</T>
        <T x={455} y={1011}>(Cluster 2)</T>
        <BoxIcon x={542} fill="#f8d49a" />
        <T x={571} y={1007} a="start">Non-hub bins</T>
      </svg>
    </div>
  );
}
